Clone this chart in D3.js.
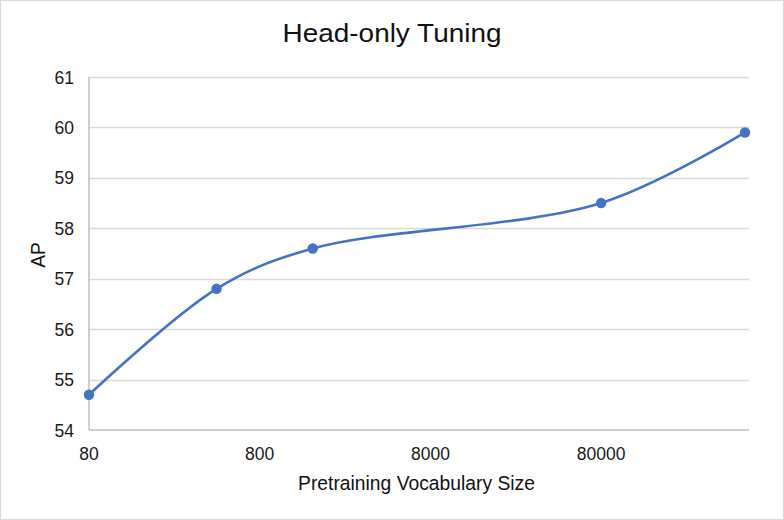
<!DOCTYPE html>
<html>
<head>
<meta charset="utf-8">
<script src="https://cdn.jsdelivr.net/npm/d3@7"></script>
<style>
  html, body { margin: 0; padding: 0; background: #fff; }
  svg { display: block; font-family: "Liberation Sans", Arial, Helvetica, sans-serif; }
</style>
</head>
<body>
<svg id="chart" width="784" height="520"></svg>
<script>
// ---- data ----
const title = "Head-only Tuning";
const xTitle = "Pretraining Vocabulary Size";
const yTitle = "AP";
const vocabSizes = [80, 447, 1635, 80000, 557000];
const apValues = [54.7, 56.8, 57.6, 58.5, 59.9];
const xTickValues = [80, 800, 8000, 80000];
const yTickValues = [54, 55, 56, 57, 58, 59, 60, 61];

// ---- layout ----
const W = 784, H = 520;
const mLeft = 89, mRight = 749, mTop = 77, mBottom = 430;
const svg = d3.select("#chart");

svg.append("rect").attr("x", 0.5).attr("y", 0.5).attr("width", W - 1).attr("height", H - 1)
  .attr("fill", "#fff").attr("stroke", "#d9d9d9").attr("stroke-width", 1);

const x = d3.scaleLog().domain([80, 588000]).range([mLeft, mRight]);
const y = d3.scaleLinear().domain([54, 61]).range([mBottom, mTop]);

// gridlines
svg.append("g").selectAll("line").data(yTickValues.filter(v => v !== 54)).join("line")
  .attr("x1", mLeft).attr("x2", mRight)
  .attr("y1", d => Math.round(y(d)) + 0.5).attr("y2", d => Math.round(y(d)) + 0.5)
  .attr("stroke", "#d9d9d9").attr("stroke-width", 1.5);

// axes lines
svg.append("line").attr("x1", mLeft).attr("x2", mLeft).attr("y1", mTop).attr("y2", mBottom)
  .attr("stroke", "#bfbfbf").attr("stroke-width", 1.5);
svg.append("line").attr("x1", mLeft).attr("x2", mRight).attr("y1", mBottom).attr("y2", mBottom)
  .attr("stroke", "#bfbfbf").attr("stroke-width", 1.5);

// y tick labels
svg.append("g").selectAll("text").data(yTickValues).join("text")
  .attr("x", 74).attr("y", d => y(d) + 6.5)
  .attr("text-anchor", "end").attr("font-size", 17.5).attr("fill", "#1a1a1a")
  .text(d => d);

// x tick labels
svg.append("g").selectAll("text").data(xTickValues).join("text")
  .attr("x", d => x(d)).attr("y", 459.5)
  .attr("text-anchor", "middle").attr("font-size", 17.5).attr("fill", "#1a1a1a")
  .text(d => d);

// line
const pts = vocabSizes.map((v, i) => [x(v), y(apValues[i])]);
svg.append("path")
  .attr("d", d3.line().curve(d3.curveCatmullRom.alpha(0.5))(pts))
  .attr("fill", "none").attr("stroke", "#4472c4").attr("stroke-width", 2.6)
  .attr("stroke-linecap", "round");

svg.append("g").selectAll("circle").data(pts).join("circle")
  .attr("cx", d => d[0]).attr("cy", d => d[1]).attr("r", 5.2)
  .attr("fill", "#4472c4");

// titles
svg.append("text").attr("x", 392).attr("y", 42.3).attr("text-anchor", "middle")
  .attr("font-size", 26).attr("fill", "#111")
  .attr("textLength", 219).attr("lengthAdjust", "spacingAndGlyphs")
  .text(title);

svg.append("text").attr("x", 416.5).attr("y", 490).attr("text-anchor", "middle")
  .attr("font-size", 19.3).attr("fill", "#111")
  .text(xTitle);

svg.append("text").attr("transform", "translate(45,255) rotate(-90)")
  .attr("text-anchor", "middle").attr("font-size", 19.3).attr("fill", "#111")
  .text(yTitle);
</script>
</body>
</html>
